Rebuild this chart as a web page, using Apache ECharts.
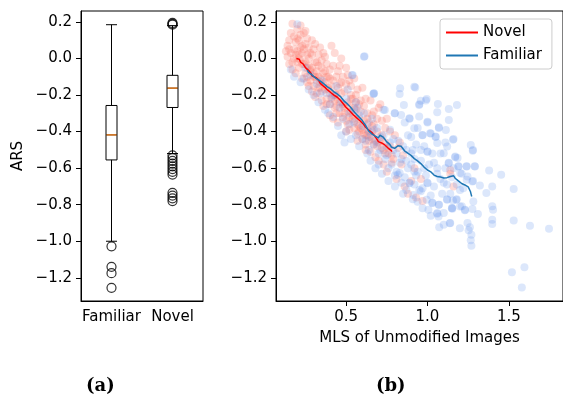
<!DOCTYPE html>
<html>
<head>
<meta charset="utf-8">
<script src="https://cdn.jsdelivr.net/npm/echarts@6/dist/echarts.min.js"></script>
<style>
  html, body { margin: 0; padding: 0; background: #fff; }
  #chart { width: 563px; height: 398px; }
</style>
</head>
<body>
<div id="chart"></div>
<script>
// (a) box plot: ARS per group
const boxCategories = ['Familiar', 'Novel'];
// [lower whisker, Q1, median, Q3, upper whisker]
const boxStats = [
  [-1.0, -0.555, -0.418, -0.257, 0.185],
  [-0.52, -0.268, -0.162, -0.092, 0.18]
];
const familiarOutliers = [-1.028, -1.14, -1.175, -1.255];
const novelOutliers = [0.185, 0.19, 0.195, -0.53, -0.545, -0.56, -0.575, -0.59, -0.605, -0.62, -0.635, -0.735, -0.75, -0.765, -0.78];

// (b) scatter: MLS of unmodified images vs ARS
const novelPoints = [
  [0.14, 0.07], [0.15, 0.1], [0.16, 0.03], [0.14, 0.01], [0.17, -0.02], [0.18, 0.12], [0.16, 0.14], [0.18, 0.05], [0.17, -0.06], [0.15, -0.03], [0.17, 0.19], [0.13, 0.04],
  [0.2, 0.16], [0.21, 0.1], [0.2, 0.04], [0.22, -0.01], [0.21, -0.05], [0.23, 0.07], [0.19, -0.08], [0.22, 0.13], [0.23, -0.11], [0.2, -0.02], [0.22, 0.18], [0.19, 0.09], [0.21, 0.02], [0.23, 0.03],
  [0.24, 0.14], [0.25, 0.08], [0.26, 0.02], [0.27, -0.04], [0.25, -0.08], [0.28, -0.12], [0.26, 0.11], [0.27, -0.15], [0.24, -0.03], [0.28, 0.03], [0.26, -0.1], [0.25, 0.15], [0.27, 0.06], [0.28, -0.07],
  [0.29, 0.1], [0.3, 0.05], [0.31, -0.02], [0.32, -0.07], [0.3, -0.1], [0.33, -0.16], [0.31, -0.21], [0.29, -0.05], [0.33, 0.02], [0.32, -0.12], [0.3, -0.15], [0.31, 0.08], [0.29, -0.18], [0.33, -0.04],
  [0.34, 0.06], [0.35, -0.01], [0.36, -0.08], [0.37, -0.13], [0.35, -0.18], [0.38, -0.22], [0.36, -0.26], [0.38, -0.03], [0.34, -0.11], [0.37, 0.01], [0.35, -0.23], [0.36, 0.03], [0.38, -0.1], [0.34, -0.16],
  [0.41, 0.07], [0.43, 0.03], [0.4, -0.06], [0.42, -0.12], [0.39, -0.17], [0.41, -0.22], [0.43, -0.27], [0.4, -0.31], [0.42, -0.04], [0.43, -0.19], [0.39, -0.1], [0.41, -0.15], [0.4, -0.25], [0.42, -0.33],
  [0.47, 0.0], [0.45, -0.07], [0.46, -0.14], [0.44, -0.2], [0.48, -0.25], [0.46, -0.3], [0.45, -0.35], [0.48, -0.1], [0.47, -0.19], [0.44, -0.26], [0.46, -0.04], [0.48, -0.32], [0.45, -0.16],
  [0.5, -0.05], [0.52, -0.12], [0.49, -0.18], [0.51, -0.24], [0.53, -0.29], [0.5, -0.34], [0.52, -0.39], [0.53, -0.2], [0.49, -0.27], [0.51, -0.09], [0.5, -0.4], [0.52, -0.26], [0.53, -0.15],
  [0.55, -0.11], [0.57, -0.17], [0.54, -0.22], [0.56, -0.28], [0.58, -0.33], [0.55, -0.38], [0.57, -0.45], [0.58, -0.25], [0.54, -0.31], [0.56, -0.2], [0.58, -0.4], [0.55, -0.27],
  [0.6, -0.16], [0.62, -0.22], [0.59, -0.29], [0.61, -0.34], [0.63, -0.39], [0.6, -0.44], [0.62, -0.5], [0.63, -0.3], [0.61, -0.26], [0.59, -0.38], [0.62, -0.42],
  [0.65, -0.23], [0.67, -0.29], [0.64, -0.35], [0.66, -0.4], [0.68, -0.45], [0.65, -0.51], [0.67, -0.36], [0.64, -0.43], [0.68, -0.54], [0.66, -0.31],
  [0.7, -0.27], [0.72, -0.34], [0.69, -0.4], [0.71, -0.45], [0.73, -0.5], [0.7, -0.56], [0.72, -0.42], [0.71, -0.25], [0.73, -0.58],
  [0.75, -0.33], [0.77, -0.4], [0.74, -0.46], [0.76, -0.52], [0.78, -0.57], [0.75, -0.62], [0.77, -0.48], [0.74, -0.38],
  [0.8, -0.42], [0.82, -0.49], [0.79, -0.55], [0.84, -0.58], [0.81, -0.66], [0.86, -0.7], [0.83, -0.46], [0.85, -0.53],
  [0.9, -0.67], [0.88, -0.74], [0.93, -0.76], [0.97, -0.78], [1.14, -0.63], [1.16, -0.7], [1.14, -0.61], [0.92, -0.6], [0.96, -0.66],
  [0.19, 0.02], [0.21, 0.0], [0.23, -0.03], [0.25, -0.02], [0.26, -0.05], [0.28, -0.06], [0.3, -0.08], [0.31, -0.1], [0.33, -0.1], [0.34, -0.13],
  [0.36, -0.14], [0.37, -0.17], [0.39, -0.16], [0.4, -0.19], [0.42, -0.2], [0.43, -0.23], [0.45, -0.22], [0.46, -0.24], [0.48, -0.26], [0.49, -0.3],
  [0.51, -0.29], [0.52, -0.32], [0.54, -0.33], [0.55, -0.34], [0.57, -0.36], [0.58, -0.37], [0.6, -0.39], [0.61, -0.41], [0.63, -0.42], [0.64, -0.45],
  [0.66, -0.44], [0.67, -0.47], [0.69, -0.48], [0.7, -0.46], [0.72, -0.49], [0.74, -0.52], [0.76, -0.49], [0.78, -0.53], [0.22, 0.06], [0.24, 0.05],
  [0.27, 0.0], [0.29, 0.02], [0.32, -0.02], [0.35, -0.05], [0.37, -0.07], [0.4, -0.11], [0.44, -0.1], [0.47, -0.13], [0.5, -0.14], [0.53, -0.22],
  [0.56, -0.24], [0.59, -0.23], [0.63, -0.33], [0.66, -0.37], [0.69, -0.33], [0.15, 0.05], [0.18, 0.0], [0.2, 0.11], [0.26, -0.13], [0.32, -0.19],
  [0.38, -0.25], [0.44, -0.3], [0.51, -0.36], [0.57, -0.41], [0.62, -0.47]
];

const familiarPoints = [
  [0.2, 0.187], [0.18, -0.1], [0.16, -0.06], [0.22, -0.13], [0.25, -0.05], [0.27, -0.17], [0.3, -0.2], [0.28, -0.09], [0.33, -0.24], [0.35, -0.12],
  [0.37, -0.28], [0.38, -0.19], [0.4, -0.25], [0.42, -0.32], [0.44, -0.15], [0.45, -0.37], [0.46, -0.27], [0.48, -0.33], [0.5, -0.22], [0.5, -0.4],
  [0.52, -0.3], [0.53, -0.44], [0.55, -0.35], [0.54, -0.09], [0.61, 0.01], [0.67, -0.19], [0.32, -0.14], [0.43, -0.2], [0.47, -0.42], [0.51, -0.17],
  [0.56, -0.24], [0.24, -0.11], [0.39, -0.3], [0.49, -0.46],
  [0.56, -0.42], [0.57, -0.27], [0.58, -0.48], [0.6, -0.37], [0.61, -0.3], [0.62, -0.45], [0.63, -0.52], [0.64, -0.4], [0.65, -0.56], [0.66, -0.33],
  [0.67, -0.47], [0.68, -0.6], [0.69, -0.38], [0.7, -0.52], [0.71, -0.43], [0.72, -0.63], [0.73, -0.28], [0.74, -0.55], [0.75, -0.48], [0.76, -0.67],
  [0.77, -0.39], [0.78, -0.58], [0.79, -0.5], [0.8, -0.3], [0.8, -0.7], [0.81, -0.62], [0.82, -0.45], [0.84, -0.55], [0.85, -0.74], [0.86, -0.35],
  [0.86, -0.65], [0.87, -0.5], [0.88, -0.6], [0.89, -0.33], [0.89, -0.68], [0.9, -0.43], [0.91, -0.77], [0.92, -0.55], [0.93, -0.64], [0.94, -0.38],
  [0.95, -0.72], [0.95, -0.25], [0.96, -0.5], [0.97, -0.82], [0.97, -0.42], [0.98, -0.6], [0.99, -0.23], [1.0, -0.68], [1.0, -0.35], [1.0, -0.51],
  [1.02, -0.41], [1.02, -0.86], [1.03, -0.79], [1.04, -0.57], [1.05, -0.43], [1.06, -0.63], [1.06, -0.85], [1.07, -0.38], [1.07, -0.8], [1.08, -0.52],
  [1.1, -0.91], [1.1, -0.68], [1.11, -0.46], [1.12, -0.77], [1.13, -0.57], [1.14, -0.9], [1.15, -0.65], [1.15, -0.82], [1.16, -0.44], [1.17, -0.54],
  [1.18, -0.77], [1.19, -0.59], [1.2, -0.81], [1.21, -0.63], [1.22, -0.71], [1.23, -0.83], [1.24, -0.59], [1.28, -0.5], [1.28, -0.67], [1.29, -0.59],
  [0.925, -0.158], [0.832, -0.163], [0.829, -0.194], [0.672, -0.191], [0.995, -0.222], [0.959, -0.231], [0.949, -0.254], [1.064, -0.249], [1.181, -0.254], [1.131, -0.276],
  [1.06, -0.294], [1.131, -0.336], [1.07, -0.376], [1.113, -0.391], [1.157, -0.445], [1.266, -0.473], [1.278, -0.505], [1.185, -0.545], [1.292, -0.591], [1.379, -0.613],
  [1.0, -0.346], [1.016, -0.409], [1.05, -0.427], [0.949, -0.318], [0.889, -0.327], [0.838, -0.309], [0.798, -0.3], [0.738, -0.282], [1.171, -0.536], [1.121, -0.482],
  [1.241, -0.591], [0.919, -0.382], [0.969, -0.418], [1.06, -0.463], [1.1, -0.518], [1.0, -0.509], [1.131, -0.573], [1.191, -0.591], [0.613, 0.013], [0.536, -0.091],
  [0.667, -0.194], [0.919, -0.155], [0.855, -0.254],
  [1.453, -0.636], [1.53, -0.714], [1.398, -0.7], [1.322, -0.695], [1.362, -0.736], [1.398, -0.809], [1.403, -0.827], [1.31, -0.851], [1.398, -0.882], [1.398, -0.905],
  [1.53, -0.886], [1.63, -0.915], [1.747, -0.931], [1.246, -0.9], [1.261, -0.924], [1.253, -0.94], [1.27, -0.964], [1.266, -0.995], [1.27, -1.024], [1.199, -0.929],
  [1.137, -0.902], [1.072, -0.924], [1.519, -1.169], [1.596, -1.142], [1.58, -1.253], [1.276, -0.824], [1.231, -0.827], [1.211, -0.809], [1.153, -0.822], [1.068, -0.864],
  [1.006, -0.827], [0.939, -0.784], [0.913, -0.747], [1.282, -0.782], [1.276, -0.673], [1.246, -0.646], [0.829, -0.627], [0.919, -0.618], [1.0, -0.682], [0.959, -0.727],
  [0.995, -0.773], [1.03, -0.791], [1.07, -0.8], [1.1, -0.845], [1.06, -0.845], [1.121, -0.773], [1.157, -0.777], [1.177, -0.773], [1.151, -0.818], [0.889, -0.682],
  [0.818, -0.636], [1.241, -0.664], [1.201, -0.627],
  [0.34, -0.19], [0.41, -0.21], [0.47, -0.24], [0.52, -0.36], [0.55, -0.28], [0.58, -0.31], [0.6, -0.44], [0.63, -0.36], [0.65, -0.43], [0.67, -0.39],
  [0.69, -0.46], [0.71, -0.5], [0.73, -0.42], [0.75, -0.53], [0.77, -0.46], [0.79, -0.44], [0.81, -0.52], [0.83, -0.57], [0.85, -0.48], [0.87, -0.56],
  [0.88, -0.42], [0.9, -0.58], [0.91, -0.5], [0.93, -0.47], [0.94, -0.62], [0.96, -0.56], [0.98, -0.48], [0.99, -0.64], [1.01, -0.58], [1.03, -0.52],
  [1.04, -0.7], [1.06, -0.6], [1.08, -0.66], [1.09, -0.74], [1.11, -0.6], [1.12, -0.69], [1.14, -0.74], [1.16, -0.6], [1.18, -0.69], [1.2, -0.72],
  [0.84, -0.68], [0.87, -0.72], [0.92, -0.69], [0.97, -0.71], [1.02, -0.75], [0.76, -0.6], [0.7, -0.58], [0.64, -0.5], [0.8, -0.64], [0.9, -0.52]
];

// running means drawn as lines
const novelTrend = [
  [0.194, 0.0], [0.205, -0.008], [0.212, -0.004], [0.22, -0.02], [0.228, -0.026], [0.236, -0.03], [0.244, -0.036], [0.25, -0.05], [0.256, -0.047], [0.262, -0.06],
  [0.27, -0.066], [0.278, -0.075], [0.285, -0.082], [0.29, -0.095], [0.296, -0.091], [0.303, -0.1], [0.31, -0.098], [0.318, -0.106], [0.326, -0.112], [0.333, -0.122],
  [0.34, -0.135], [0.348, -0.14], [0.355, -0.147], [0.362, -0.155], [0.37, -0.158], [0.378, -0.166], [0.386, -0.172], [0.395, -0.182], [0.405, -0.186], [0.415, -0.194],
  [0.425, -0.2], [0.436, -0.206], [0.446, -0.212], [0.456, -0.219], [0.466, -0.23], [0.476, -0.24], [0.486, -0.252], [0.496, -0.264], [0.505, -0.27], [0.515, -0.28],
  [0.527, -0.291], [0.537, -0.298], [0.547, -0.31], [0.557, -0.318], [0.567, -0.326], [0.577, -0.336], [0.587, -0.342], [0.597, -0.352], [0.607, -0.36], [0.617, -0.373],
  [0.627, -0.383], [0.637, -0.39], [0.647, -0.4], [0.657, -0.404], [0.667, -0.415], [0.678, -0.427], [0.688, -0.44], [0.698, -0.455], [0.708, -0.458], [0.718, -0.462],
  [0.728, -0.468], [0.738, -0.473], [0.748, -0.48], [0.758, -0.49], [0.768, -0.496], [0.778, -0.504], [0.782, -0.51]
];
const familiarTrend = [
  [0.261, -0.063], [0.268, -0.075], [0.275, -0.078], [0.284, -0.085], [0.292, -0.09], [0.3, -0.098], [0.308, -0.105], [0.315, -0.109], [0.323, -0.114], [0.332, -0.118],
  [0.34, -0.126], [0.348, -0.128], [0.356, -0.134], [0.365, -0.14], [0.375, -0.145], [0.385, -0.155], [0.395, -0.16], [0.405, -0.166], [0.415, -0.173], [0.425, -0.182],
  [0.435, -0.188], [0.445, -0.194], [0.455, -0.2], [0.466, -0.209], [0.476, -0.22], [0.486, -0.232], [0.496, -0.24], [0.506, -0.247], [0.516, -0.254], [0.526, -0.265],
  [0.536, -0.276], [0.546, -0.288], [0.557, -0.3], [0.567, -0.31], [0.577, -0.318], [0.587, -0.326], [0.597, -0.336], [0.607, -0.35], [0.617, -0.362], [0.627, -0.378],
  [0.637, -0.395], [0.647, -0.404], [0.657, -0.412], [0.668, -0.418], [0.678, -0.424], [0.688, -0.428], [0.698, -0.434], [0.708, -0.42], [0.718, -0.418], [0.728, -0.43],
  [0.738, -0.442], [0.748, -0.455], [0.758, -0.463], [0.768, -0.47], [0.778, -0.484], [0.788, -0.49], [0.798, -0.492], [0.808, -0.488], [0.818, -0.478], [0.828, -0.476],
  [0.838, -0.48], [0.848, -0.49], [0.859, -0.505], [0.869, -0.51], [0.879, -0.518], [0.889, -0.52], [0.899, -0.53], [0.909, -0.538], [0.919, -0.548], [0.929, -0.552],
  [0.939, -0.56], [0.949, -0.568], [0.959, -0.575], [0.969, -0.585], [0.979, -0.594], [0.989, -0.6], [1.0, -0.61], [1.01, -0.616], [1.02, -0.62], [1.03, -0.63],
  [1.04, -0.638], [1.05, -0.645], [1.06, -0.646], [1.07, -0.652], [1.08, -0.648], [1.09, -0.656], [1.1, -0.654], [1.11, -0.66], [1.12, -0.652], [1.13, -0.648],
  [1.14, -0.646], [1.15, -0.645], [1.161, -0.642], [1.17, -0.655], [1.18, -0.664], [1.19, -0.67], [1.2, -0.676], [1.21, -0.684], [1.221, -0.691], [1.23, -0.692],
  [1.24, -0.698], [1.25, -0.702], [1.258, -0.71], [1.264, -0.728], [1.268, -0.742], [1.272, -0.755]
];

const arsTicks = [-1.2, -1.0, -0.8, -0.6, -0.4, -0.2, 0.0, 0.2];
const mlsTicks = [0.5, 1.0, 1.5];

const FONT = 'DejaVu Sans';
const fmt = v => v.toFixed(1).replace('-', '\u2212');

const chart = echarts.init(document.getElementById('chart'));

const yAxisBase = {
  type: 'value',
  min: -1.327,
  max: 0.26,
  splitLine: { show: false },
  axisLine: { show: true, onZero: false, lineStyle: { color: '#000', width: 1 } },
  axisTick: { show: true, length: 5, customValues: arsTicks, lineStyle: { color: '#000' } },
  axisLabel: { customValues: arsTicks, formatter: fmt, color: '#000', fontFamily: FONT, fontSize: 15, margin: 9 }
};

const option = {
  animation: false,
  backgroundColor: '#fff',
  grid: [
    { left: 81, top: 11, width: 122, height: 290, show: true, borderColor: '#000', borderWidth: 1, backgroundColor: 'transparent' },
    { left: 276, top: 11, width: 292, height: 290, show: true, borderColor: '#000', borderWidth: 1, backgroundColor: 'transparent' }
  ],
  xAxis: [
    {
      type: 'category', gridIndex: 0, data: boxCategories, boundaryGap: true,
      axisLine: { onZero: false, lineStyle: { color: '#000' } },
      axisTick: { alignWithLabel: true, length: 5, lineStyle: { color: '#000' } },
      axisLabel: { interval: 0, color: '#000', fontFamily: FONT, fontSize: 15, margin: 9 }
    },
    {
      type: 'value', gridIndex: 1, min: 0.069, max: 1.833,
      splitLine: { show: false },
      axisLine: { onZero: false, lineStyle: { color: '#000' } },
      axisTick: { length: 5, customValues: mlsTicks, lineStyle: { color: '#000' } },
      axisLabel: { customValues: mlsTicks, formatter: fmt, color: '#000', fontFamily: FONT, fontSize: 15, margin: 9 },
      name: 'MLS of Unmodified Images', nameLocation: 'middle', nameGap: 30,
      nameTextStyle: { color: '#000', fontFamily: FONT, fontSize: 15 }
    }
  ],
  yAxis: [
    Object.assign({}, yAxisBase, {
      gridIndex: 0, name: 'ARS', nameLocation: 'middle', nameGap: 55,
      nameTextStyle: { color: '#000', fontFamily: FONT, fontSize: 15 }
    }),
    Object.assign({}, yAxisBase, { gridIndex: 1 })
  ],
  legend: {
    data: [
      { name: 'Novel', icon: 'rect' },
      { name: 'Familiar', icon: 'rect' }
    ],
    orient: 'vertical', left: 440, top: 19,
    itemWidth: 32, itemHeight: 2, itemGap: 8, itemTextGap: 12,
    padding: [6, 10, 6, 6],
    backgroundColor: 'rgba(255,255,255,0.8)', borderColor: '#ccc', borderWidth: 1, borderRadius: 3,
    textStyle: { color: '#000', fontFamily: FONT, fontSize: 15 },
    selectedMode: false
  },
  graphic: [
    { type: 'text', left: 86, top: 377, style: { text: '(a)', font: 'bold 18px "DejaVu Serif"', fill: '#000' } },
    { type: 'text', left: 376, top: 377, style: { text: '(b)', font: 'bold 18px "DejaVu Serif"', fill: '#000' } }
  ],
  series: [
    {
      type: 'boxplot', xAxisIndex: 0, yAxisIndex: 0,
      data: boxStats, boxWidth: [11, 11],
      itemStyle: { color: '#fff', borderColor: '#000', borderWidth: 1 },
      silent: true
    },
    {
      type: 'scatter', xAxisIndex: 0, yAxisIndex: 0, z: 3,
      data: boxStats.map((s, i) => [i, s[2]]),
      symbol: 'rect', symbolSize: [10, 1.5],
      itemStyle: { color: '#ff7f0e' }, silent: true
    },
    {
      type: 'scatter', xAxisIndex: 0, yAxisIndex: 0,
      data: familiarOutliers.map(v => [0, v]).concat(novelOutliers.map(v => [1, v])),
      symbol: 'circle', symbolSize: 9,
      itemStyle: { color: 'rgba(0,0,0,0)', borderColor: '#000', borderWidth: 1.2 },
      silent: true
    },
    {
      name: 'novel points', type: 'scatter', xAxisIndex: 1, yAxisIndex: 1,
      data: novelPoints, symbolSize: 8,
      itemStyle: { color: 'rgba(250,128,114,0.36)' }, silent: true
    },
    {
      name: 'familiar points', type: 'scatter', xAxisIndex: 1, yAxisIndex: 1,
      data: familiarPoints, symbolSize: 8,
      itemStyle: { color: 'rgba(100,149,237,0.28)' }, silent: true
    },
    {
      name: 'Novel', type: 'line', xAxisIndex: 1, yAxisIndex: 1,
      data: novelTrend, showSymbol: false, symbol: 'none',
      lineStyle: { color: '#ff0000', width: 1.5 }, itemStyle: { color: '#ff0000' }, z: 4
    },
    {
      name: 'Familiar', type: 'line', xAxisIndex: 1, yAxisIndex: 1,
      data: familiarTrend, showSymbol: false, symbol: 'none',
      lineStyle: { color: '#1f77b4', width: 1.5 }, itemStyle: { color: '#1f77b4' }, z: 5
    }
  ]
};

chart.setOption(option);
</script>
</body>
</html>
